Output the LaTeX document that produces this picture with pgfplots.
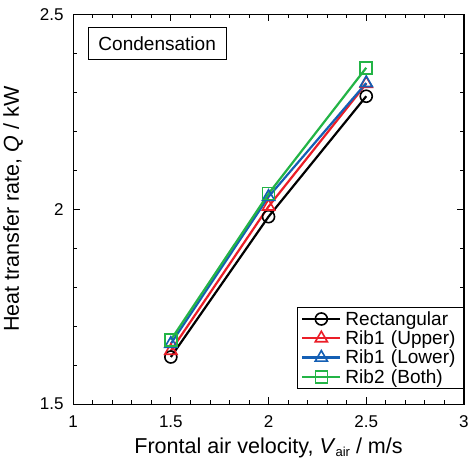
\documentclass[border={0pt 0pt -4pt 5pt}]{standalone}
\usepackage{pgfplots}
\pgfplotsset{compat=1.18}
\usepackage{fontspec}
\setmainfont{Liberation Sans}
\definecolor{cred}{RGB}{235,30,40}
\definecolor{cblue}{RGB}{20,95,180}
\definecolor{cgreen}{RGB}{35,180,70}
\begin{document}
\begin{tikzpicture}
\begin{axis}[
  scale only axis,
  width=390pt, height=389pt,
  xmin=1, xmax=3, ymin=1.5, ymax=2.5,
  xtick={1,1.5,2,2.5,3}, ytick={1.5,2,2.5},
  minor x tick num=4, minor y tick num=4,
  tick align=inside, major tick length=7pt, minor tick length=4pt,
  xticklabels={1,1.5,2,2.5,3}, yticklabels={1.5,2,2.5},
  tick label style={font=\fontsize{17}{20}\selectfont},
  yticklabel style={xshift=-6pt},
  xticklabel style={yshift=-8pt},
  axis line style={line width=1.2pt},
  every tick/.style={black, line width=0.8pt},
  xlabel={Frontal air velocity, \textit{V}\raisebox{-3pt}{\fontsize{13}{14}\selectfont air} / m/s},
  ylabel={Heat transfer rate, \textit{Q} / kW},
  label style={font=\fontsize{21.5}{25}\selectfont},
  xlabel style={yshift=-3pt},
  ylabel style={yshift=10pt},
  legend style={at={(rel axis cs:1,0.039)}, anchor=south east, draw=black, line width=0.8pt,
    font=\fontsize{19}{21}\selectfont, row sep=0pt, inner xsep=4pt, inner ysep=2pt,
    nodes={inner xsep=4pt}},
  legend cell align=left,
  legend image code/.code={\draw[mark repeat=2, mark phase=2] plot coordinates {(0pt,0pt) (19pt,0pt) (38pt,0pt)};},
]
\addplot[black, line width=2.2pt, mark=o, mark size=6pt, mark options={fill=white, line width=1.6pt, solid}]
  coordinates {(1.5,1.621) (2,1.981) (2.5,2.290)};
\addlegendentry{Rectangular}
\addplot[cred, line width=2.2pt, mark=triangle, mark size=7pt, mark options={fill=white, line width=1.6pt, solid}]
  coordinates {(1.5,1.637) (2,2.007) (2.5,2.322)};
\addlegendentry{Rib1\,\,(Upper)}
\addplot[cblue, line width=2.2pt, mark=triangle, mark size=7pt, mark options={fill=white, line width=1.6pt, solid}]
  coordinates {(1.5,1.655) (2,2.032) (2.5,2.324)};
\addlegendentry{Rib1\,\,(Lower)}
\addplot[cgreen, line width=2.2pt, mark=square, mark size=6pt, mark options={fill=white, line width=1.6pt, solid}]
  coordinates {(1.5,1.665) (2,2.040) (2.5,2.363)};
\addlegendentry{Rib2\,\,(Both)}
\node[draw=black, line width=0.8pt, anchor=north west, inner xsep=10pt, inner ysep=9pt,
  font=\fontsize{19}{22}\selectfont] at (rel axis cs:0.038,0.968) {Condensation};
\end{axis}
\end{tikzpicture}
\end{document}
